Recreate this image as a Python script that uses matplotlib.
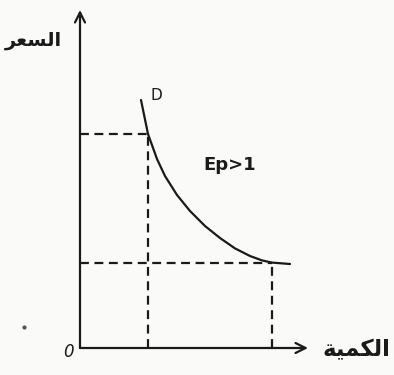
import matplotlib
matplotlib.use("Agg")
import matplotlib.pyplot as plt

# Demand curve D (quantity, price), elastic segment
quantity = [3.05, 3.4, 3.85, 4.25, 4.85, 5.5, 6.25, 7.0, 7.75, 8.5, 9.1, 9.6, 10.5]
price = [12.4, 10.7, 9.45, 8.6, 7.65, 6.85, 6.1, 5.5, 4.98, 4.6, 4.38, 4.27, 4.2]

# Two marked points on the curve (quantity, price)
point_q = [3.4, 9.6]
point_p = [10.7, 4.27]

# Axis lengths
x_axis_end = 11.4
y_axis_end = 16.9

# Arabic labels written in presentation forms (visual order)
price_label = "\uFEAE\uFECC\uFEB4\uFEDF\uFE8D"       # السعر
quantity_label = "\uFE94\uFEF4\uFEE4\uFEDC\uFEDF\uFE8D"  # الكمية

fig = plt.figure(figsize=(3.94, 3.75), dpi=100)
fig.patch.set_facecolor("#fafaf8")
ax = fig.add_axes([0, 0, 1, 1])
ax.set_facecolor("#fafaf8")
ax.set_xlim(-4, 15.7)
ax.set_ylim(-1.35, 17.4)
ax.axis("off")

ink = "#1a1a1a"

# Axes with open arrowheads
ax.annotate("", xy=(x_axis_end, 0), xytext=(0, 0),
            arrowprops=dict(arrowstyle="->", color=ink, lw=1.6,
                            mutation_scale=18, shrinkA=0, shrinkB=0))
ax.annotate("", xy=(0, y_axis_end), xytext=(0, 0),
            arrowprops=dict(arrowstyle="->", color=ink, lw=1.6,
                            mutation_scale=18, shrinkA=0, shrinkB=0))

# Dashed guide lines to both axes
for q, p in zip(point_q, point_p):
    ax.plot([0, q], [p, p], color=ink, lw=1.6, dashes=(4, 2.5))
    ax.plot([q, q], [0, p], color=ink, lw=1.6, dashes=(4, 2.5))

# Demand curve
ax.plot(quantity, price, color=ink, lw=1.6, solid_capstyle="round",
        solid_joinstyle="round")

# Labels
ax.text(quantity[0] + 0.5, price[0] + 0.25, "D", color=ink, fontsize=11,
        family=["Liberation Sans Narrow", "DejaVu Sans"], ha="left", va="center")
ax.text(6.15, 9.15, "Ep>1", color=ink, fontsize=13, fontweight="bold",
        family=["Liberation Sans Narrow", "DejaVu Sans"], ha="left", va="center")
ax.text(-0.6, -0.2, "0", color=ink, fontsize=12, style="italic",
        family=["Liberation Sans Narrow", "DejaVu Sans"], ha="center", va="center")
ax.text(-2.35, 15.4, price_label, color=ink, fontsize=14, fontweight="bold",
        family=["DejaVu Sans"], ha="center", va="center")
ax.text(13.8, -0.1, quantity_label, color=ink, fontsize=16.5, fontweight="bold",
        family=["DejaVu Sans"], ha="center", va="center")

# Small ink speck
ax.plot([-2.8], [1.05], "o", color="#555555", ms=2)

fig.savefig("out.png", dpi=100, facecolor=fig.get_facecolor())
